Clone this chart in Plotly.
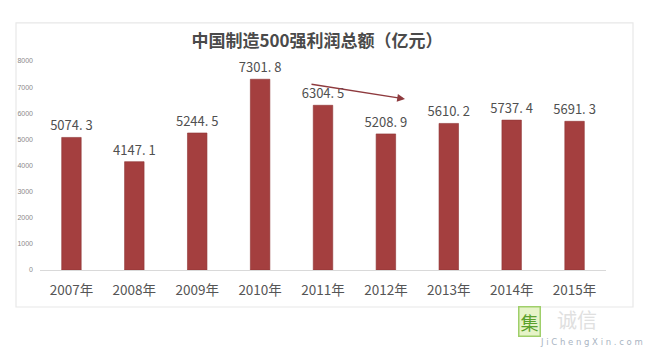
import plotly.graph_objects as go

# Annual total profit of China's top 500 manufacturers (100 million yuan)
years = ["2007年", "2008年", "2009年", "2010年", "2011年", "2012年", "2013年", "2014年", "2015年"]
profits = [5074.3, 4147.1, 5244.5, 7301.8, 6304.5, 5208.9, 5610.2, 5737.4, 5691.3]
y_ticks = [0, 1000, 2000, 3000, 4000, 5000, 6000, 7000, 8000]

FONT = "Noto Sans CJK SC, Liberation Sans, sans-serif"
labels = [f"{v:.1f}".replace(".", ". ") for v in profits]

fig = go.Figure(
    go.Bar(
        x=years,
        y=profits,
        width=0.31,
        marker=dict(color="#A43F3F", line=dict(color="#8E3434", width=0.6)),
        text=labels,
        textposition="outside",
        constraintext="none",
        textfont=dict(size=13, color="#505050", family=FONT),
        cliponaxis=False,
    )
)

# Light frame around the whole chart
fig.add_shape(type="rect", xref="paper", yref="paper",
              x0=-0.0424, x1=1.0477, y0=-0.177, y1=1.182,
              line=dict(color="#e8e8e8", width=1.2), layer="below")

# Downward trend arrow from 2010 towards 2012 (tail given as pixel offset)
fig.add_annotation(xref="paper", yref="paper",
                   x=(405 - 40) / 566, y=(270 - 99) / 209,
                   ax=310 - 405, ay=84 - 99,
                   axref="pixel", ayref="pixel",
                   showarrow=True, arrowhead=2, arrowsize=1.2, arrowwidth=1.3,
                   arrowcolor="#8E3A3E", text="")

# Site mark in the lower right corner
fig.add_annotation(xref="paper", yref="paper", x=(529 - 40) / 566, y=(270 - 321) / 209,
                   xanchor="center", yanchor="middle",
                   text="集", showarrow=False,
                   font=dict(size=18, color="#5aa02c", family=FONT),
                   bgcolor="#e6f3c8", bordercolor="#9fcf6a", borderwidth=1.5, borderpad=1)
fig.add_annotation(xref="paper", yref="paper", x=(577 - 40) / 566, y=(270 - 319) / 209,
                   xanchor="center", yanchor="middle",
                   text="诚信", showarrow=False,
                   font=dict(size=20, color="#e0e0e0", family=FONT))
fig.add_annotation(xref="paper", yref="paper", x=(591 - 40) / 566, y=(270 - 342) / 209,
                   xanchor="center", yanchor="middle",
                   text="J i C h e n g X i n . c o m", showarrow=False,
                   font=dict(size=8.5, color="#a9b4c2", family="DejaVu Sans, sans-serif"))

fig.update_layout(
    width=650, height=349,
    margin=dict(l=40, r=44, t=61, b=79),
    paper_bgcolor="white", plot_bgcolor="white",
    showlegend=False,
    bargap=0.69,
    title=dict(text="<b>中国制造500强利润总额（亿元）</b>",
               x=317 / 650, xanchor="center", y=1 - 41 / 349, yanchor="middle",
               font=dict(size=17, color="#4a4a4a", family=FONT)),
    xaxis=dict(showline=True, linecolor="#d9d9d9", linewidth=1, ticks="",
               tickfont=dict(size=13.5, color="#555555", family=FONT),
               ticklabelstandoff=8),
    yaxis=dict(range=[0, 8000], tickvals=y_ticks, showgrid=False, zeroline=False,
               showline=False, ticks="",
               tickfont=dict(size=7, color="#8a8a8a", family="Liberation Sans, sans-serif"),
               ticklabelstandoff=6),
)

fig.write_html("out.html")
